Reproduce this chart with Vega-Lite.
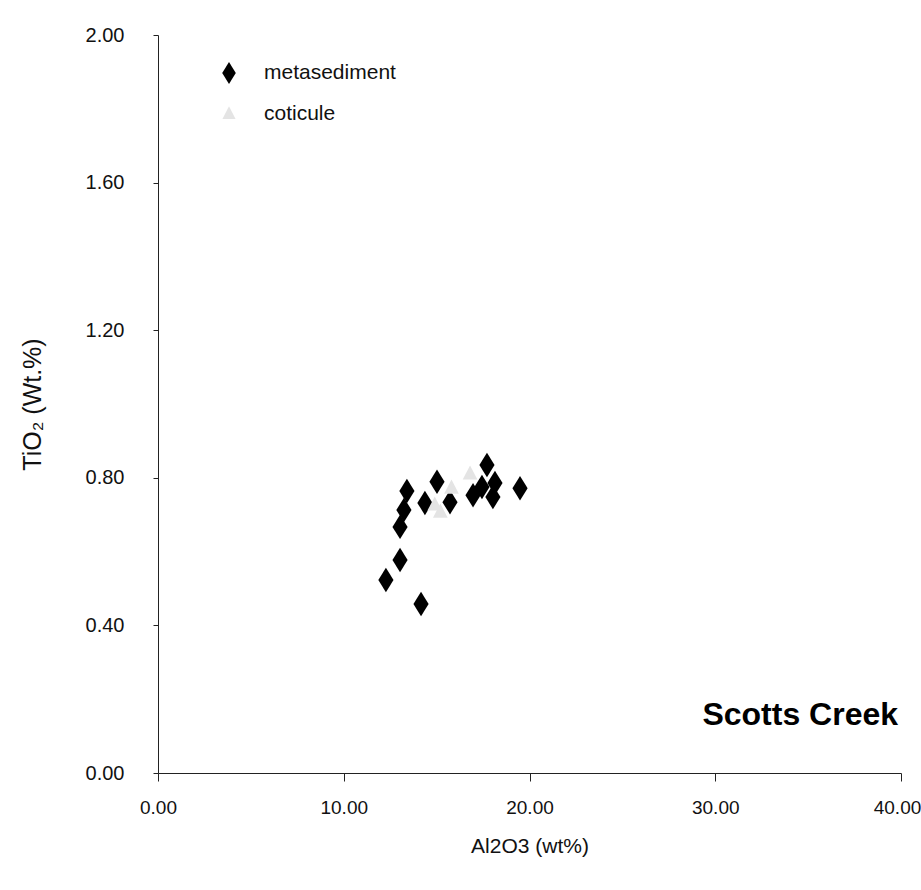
{
  "$schema": "https://vega.github.io/schema/vega-lite/v6.json",
  "width": 743,
  "height": 738,
  "autosize": "none",
  "padding": {"left": 158, "top": 35, "right": 20, "bottom": 117},
  "background": "white",
  "config": {
    "view": {"stroke": null},
    "font": "Liberation Sans"
  },
  "datasets": {
    "pts": [
      {"Al2O3": 12.27, "TiO2": 0.523, "type": "metasediment"},
      {"Al2O3": 13.03, "TiO2": 0.577, "type": "metasediment"},
      {"Al2O3": 14.16, "TiO2": 0.458, "type": "metasediment"},
      {"Al2O3": 13.03, "TiO2": 0.667, "type": "metasediment"},
      {"Al2O3": 13.24, "TiO2": 0.713, "type": "metasediment"},
      {"Al2O3": 13.4, "TiO2": 0.764, "type": "metasediment"},
      {"Al2O3": 14.37, "TiO2": 0.732, "type": "metasediment"},
      {"Al2O3": 15.02, "TiO2": 0.789, "type": "metasediment"},
      {"Al2O3": 15.72, "TiO2": 0.734, "type": "metasediment"},
      {"Al2O3": 16.96, "TiO2": 0.753, "type": "metasediment"},
      {"Al2O3": 17.71, "TiO2": 0.835, "type": "metasediment"},
      {"Al2O3": 17.44, "TiO2": 0.775, "type": "metasediment"},
      {"Al2O3": 18.14, "TiO2": 0.786, "type": "metasediment"},
      {"Al2O3": 18.03, "TiO2": 0.748, "type": "metasediment"},
      {"Al2O3": 19.49, "TiO2": 0.772, "type": "metasediment"},
      {"Al2O3": 14.9, "TiO2": 0.726, "type": "coticule"},
      {"Al2O3": 15.2, "TiO2": 0.707, "type": "coticule"},
      {"Al2O3": 15.8, "TiO2": 0.772, "type": "coticule"},
      {"Al2O3": 16.8, "TiO2": 0.81, "type": "coticule"}
    ],
    "label": [
      {"Al2O3": 39.84, "TiO2": 0.13, "text": "Scotts Creek"}
    ]
  },
  "layer": [
    {
      "data": {"name": "pts"},
      "mark": {"type": "point", "filled": true, "opacity": 1, "size": 600},
      "encoding": {
        "x": {
          "field": "Al2O3", "type": "quantitative",
          "scale": {"domain": [0, 40], "nice": false, "zero": false},
          "axis": {
            "title": "Al2O3 (wt%)", "values": [0, 10, 20, 30, 40], "format": ".2f",
            "grid": false, "domainColor": "#222", "tickColor": "#222", "tickSize": 8,
            "labelFontSize": 19, "labelColor": "#111", "labelPadding": 17,
            "labelOffset": {"condition": {"test": "datum.value == 40", "value": -4}, "value": 0},
            "titleFontSize": 21, "titleFontWeight": "normal", "titleColor": "#111", "titlePadding": 18,
            "labelFlush": false
          }
        },
        "y": {
          "field": "TiO2", "type": "quantitative",
          "scale": {"domain": [0, 2], "nice": false, "zero": false},
          "axis": {
            "title": "TiO₂ (Wt.%)", "values": [0, 0.4, 0.8, 1.2, 1.6, 2.0], "format": ".2f",
            "grid": false, "domainColor": "#222", "tickColor": "#222", "tickSize": 5,
            "labelFontSize": 20, "labelColor": "#111", "labelPadding": 29,
            "titleFontSize": 25, "titleFontWeight": "normal", "titleColor": "#111", "titlePadding": 40,
            "labelFlush": false
          }
        },
        "shape": {
          "field": "type", "type": "nominal",
          "scale": {"domain": ["metasediment", "coticule"], "range": ["M0,-1L0.62,0L0,1L-0.62,0Z", "M0,-0.7L0.6,0.45L-0.6,0.45Z"]},
          "legend": {
            "title": null, "orient": "none", "legendX": 60, "legendY": 27,
            "labelFontSize": 21, "labelColor": "#111", "symbolSize": 480, "rowPadding": 19,
            "labelOffset": 24, "symbolStrokeWidth": 0
          }
        },
        "color": {
          "field": "type", "type": "nominal",
          "scale": {"domain": ["metasediment", "coticule"], "range": ["#000000", "#e4e4e4"]},
          "legend": {
            "title": null, "orient": "none", "legendX": 60, "legendY": 27,
            "labelFontSize": 21, "labelColor": "#111", "symbolSize": 480, "rowPadding": 19,
            "labelOffset": 24, "symbolStrokeWidth": 0
          }
        },
        "order": {"field": "type", "sort": "descending"}
      }
    },
    {
      "data": {"name": "label"},
      "mark": {"type": "text", "fontSize": 32, "fontWeight": "bold", "align": "right", "baseline": "alphabetic", "color": "#000"},
      "encoding": {
        "x": {"field": "Al2O3", "type": "quantitative"},
        "y": {"field": "TiO2", "type": "quantitative"},
        "text": {"field": "text"}
      }
    }
  ]
}
